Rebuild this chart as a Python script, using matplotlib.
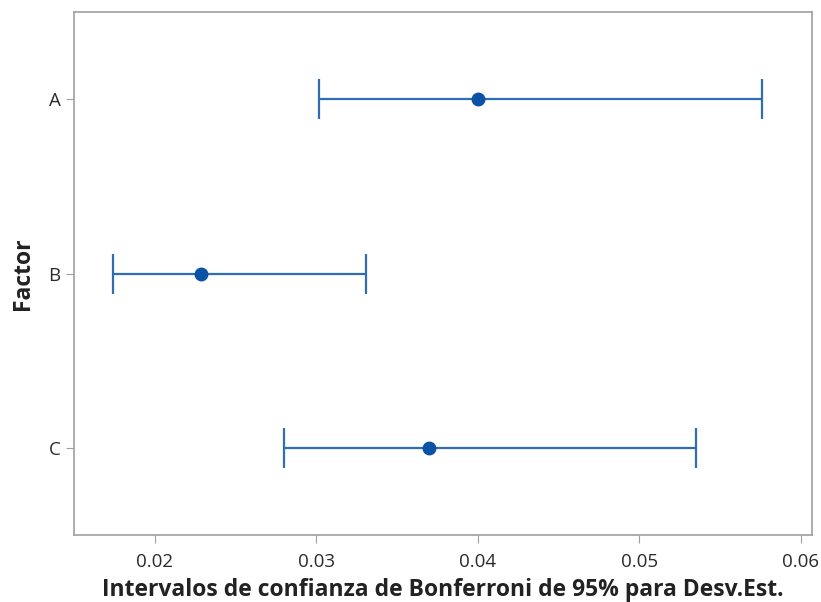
import matplotlib
matplotlib.use("Agg")
import matplotlib.pyplot as plt

# Intervalos de Bonferroni (95%) para la desviacion estandar
factores = ["A", "B", "C"]
desv_est = [0.0400, 0.0229, 0.0370]
limite_inf = [0.0302, 0.0174, 0.0280]
limite_sup = [0.0576, 0.0331, 0.0535]

plt.rcParams["font.family"] = ["Open Sans", "DejaVu Sans"]

fig = plt.figure(figsize=(8.21, 6.02), dpi=100)
ax = fig.add_axes([0.090, 0.111, 0.899, 0.869])

pos = list(range(len(factores)))
err_izq = [d - li for d, li in zip(desv_est, limite_inf)]
err_der = [ls - d for d, ls in zip(desv_est, limite_sup)]

ax.errorbar(desv_est, pos, xerr=[err_izq, err_der], fmt="none",
            ecolor="#2f6db5", elinewidth=1.6, capsize=14.5, capthick=1.6)
ax.plot(desv_est, pos, "o", color="#0a52a6", markersize=9, zorder=3)

ax.set_yticks(pos)
ax.set_yticklabels(factores)
ax.set_ylim(2.5, -0.5)
ax.set_xlim(0.015, 0.0607)
ax.set_xticks([0.02, 0.03, 0.04, 0.05, 0.06])
ax.set_xticklabels(["0.02", "0.03", "0.04", "0.05", "0.06"])

for s in ax.spines.values():
    s.set_color("#a0a0a0")
    s.set_linewidth(1.2)
ax.tick_params(colors="#a0a0a0", labelcolor="#2a2a2a", labelsize=13.5, length=6)
ax.tick_params(axis="x", pad=7)

ax.set_xlabel("Intervalos de confianza de Bonferroni de 95% para Desv.Est.",
              fontsize=16.5, fontweight="bold", color="#222222", labelpad=5)
ax.set_ylabel("Factor", fontsize=16.5, fontweight="bold", color="#222222", labelpad=10)

fig.savefig("out.png", dpi=100)
